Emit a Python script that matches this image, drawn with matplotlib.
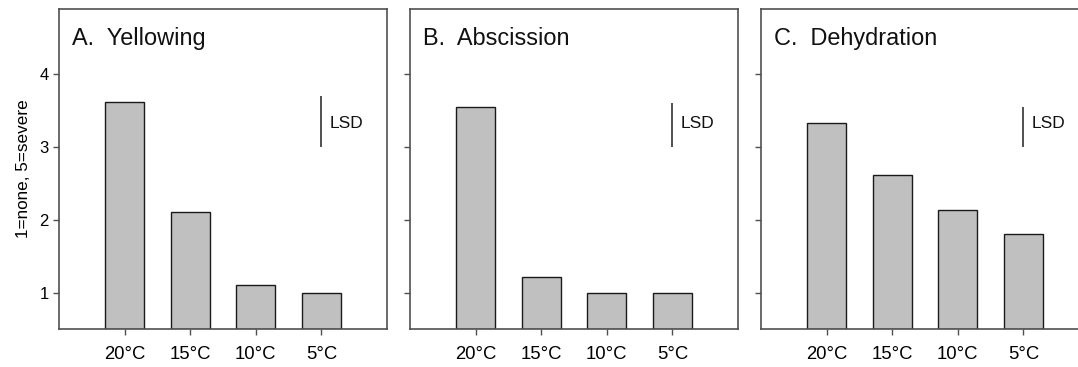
import matplotlib
matplotlib.use("Agg")
import matplotlib.pyplot as plt

plt.rcParams['font.family'] = ['Liberation Sans', 'DejaVu Sans']

# chart data
temps = ['20°C', '15°C', '10°C', '5°C']
yellowing = [3.61, 2.11, 1.11, 1.00]
abscission = [3.55, 1.22, 1.00, 1.00]
dehydration = [3.33, 2.61, 2.14, 1.80]
titles = ['A.  Yellowing', 'B.  Abscission', 'C.  Dehydration']
lsd_tops = [3.70, 3.60, 3.55]
lsd_base = 3.0
yticks = [1, 2, 3, 4]

series = [yellowing, abscission, dehydration]
lefts = [59, 410, 761]

fig = plt.figure(figsize=(10.78, 3.67), dpi=100)
W, H = 1078, 367
frame = '#505050'

for i, vals in enumerate(series):
    ax = fig.add_axes([lefts[i] / W, 38 / H, 328 / W, 320.5 / H])
    x = list(range(1, len(vals) + 1))
    ax.bar(x, [v - 0.5 for v in vals], bottom=0.5, width=0.6,
           color='#c0c0c0', edgecolor='#1a1a1a', linewidth=1.0, zorder=2)
    ax.set_xlim(0, 5)
    ax.set_ylim(0.5, 4.9)
    ax.set_xticks(x)
    ax.set_xticklabels(temps, fontsize=13.3)
    ax.set_yticks(yticks)
    if i == 0:
        ax.set_yticklabels([str(t) for t in yticks], fontsize=12)
        ax.set_ylabel('1=none, 5=severe', fontsize=12.3, labelpad=6)
    else:
        ax.set_yticklabels([])
    ax.tick_params(axis='both', direction='out', length=4.5, width=1,
                   color=frame)
    ax.tick_params(axis='x', pad=8)
    ax.tick_params(axis='y', pad=3)
    for s in ax.spines.values():
        s.set_color(frame)
        s.set_linewidth(1.2)
    ax.text(0.04, 0.905, titles[i], transform=ax.transAxes, fontsize=16.9,
            va='center', ha='left', color='#111111')
    ax.vlines(4, lsd_base, lsd_tops[i], color='#333333', linewidth=1.2)
    ax.text(4.13, 3.32, 'LSD', fontsize=12.5, va='center',
            ha='left', color='#111111')

fig.savefig('out.png', dpi=100)
